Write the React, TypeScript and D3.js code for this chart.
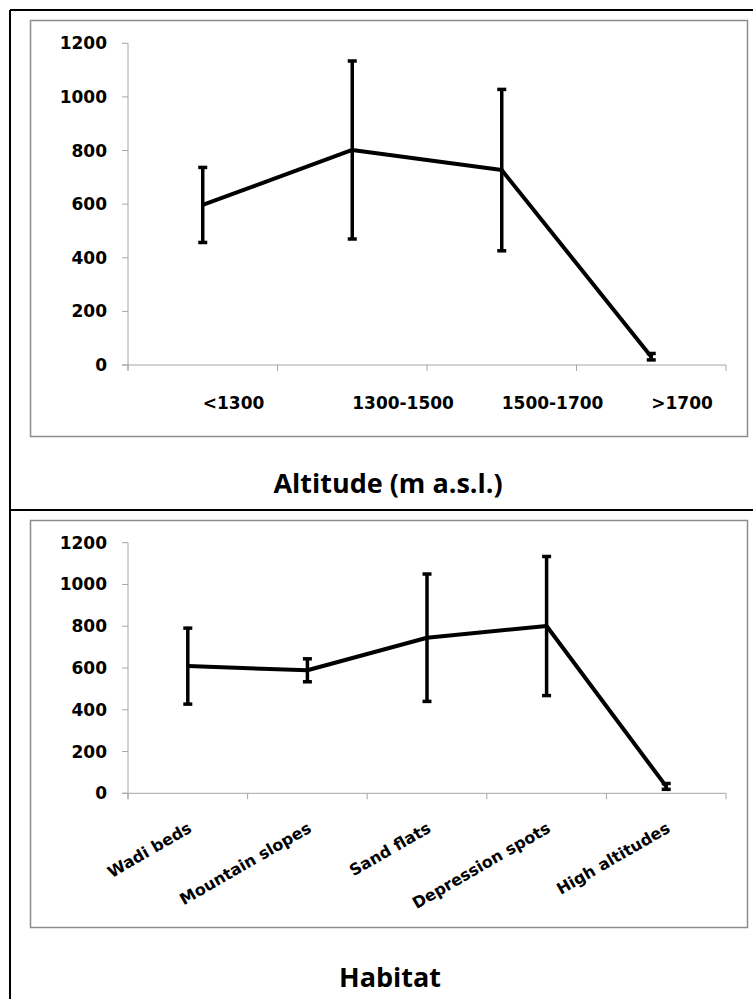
import React from "react"
import * as d3 from "d3"

const altitudeCats = ["<1300", "1300-1500", "1500-1700", ">1700"]
const altitudeMeans = [597, 802, 727, 31]
const altitudeErrors = [140, 332, 301, 12]

const habitatCats = ["Wadi beds", "Mountain slopes", "Sand flats", "Depression spots", "High altitudes"]
const habitatMeans = [609, 589, 745, 801, 33]
const habitatErrors = [182, 55, 305, 333, 14]

const yTicks = [0, 200, 400, 600, 800, 1000, 1200]

const axisColor = "#a6a6a6"
const chartFont = "'DejaVu Sans', Verdana, sans-serif"
const titleFont = "'Open Sans', sans-serif"

type PanelProps = {
  cats: string[]
  means: number[]
  errors: number[]
  yTop: number
  yZero: number
  rotated: boolean
}

const Panel = (props: PanelProps) => {
  const { cats, means, errors, yTop, yZero, rotated } = props

  const x = d3.scaleBand<string>().domain(cats).range([128, 726]).padding(0)
  const y = d3.scaleLinear().domain([0, 1200]).range([yZero, yTop])
  const cx = (c: string) => (x(c) ?? 0) + x.bandwidth() / 2

  const line = d3
    .line<number>()
    .x((d, i) => cx(cats[i]))
    .y((d) => y(d))

  const bounds = cats.map((c) => x(c) ?? 0).concat([x.range()[1]])

  return (
    <g>
      {/* axes */}
      <line x1={128} x2={128} y1={y(1200)} y2={yZero + 6} stroke={axisColor} strokeWidth={1} />
      <line x1={122} x2={726} y1={yZero} y2={yZero} stroke={axisColor} strokeWidth={1} />
      {yTicks.map((t) => (
        <g key={t}>
          <line x1={122} x2={128} y1={y(t)} y2={y(t)} stroke={axisColor} strokeWidth={1} />
          <text
            x={107}
            y={y(t)}
            textAnchor="end"
            dominantBaseline="central"
            fontFamily={chartFont}
            fontWeight="bold"
            fontSize={17}
            fill="#000"
          >
            {t}
          </text>
        </g>
      ))}
      {bounds.map((b, i) => (
        <line key={i} x1={b} x2={b} y1={yZero} y2={yZero + 6} stroke={axisColor} strokeWidth={1} />
      ))}

      {/* category labels */}
      {cats.map((c) =>
        rotated ? (
          <text
            key={c}
            transform={`translate(${cx(c) + 5},${yZero + 38}) rotate(-30)`}
            textAnchor="end"
            fontFamily={chartFont}
            fontWeight="bold"
            fontSize={16}
            fill="#000"
          >
            {c}
          </text>
        ) : (
          <text
            key={c}
            x={cx(c)}
            y={yZero + 44}
            textAnchor="start"
            fontFamily={chartFont}
            fontWeight="bold"
            fontSize={17}
            fill="#000"
          >
            {c}
          </text>
        )
      )}

      {/* error bars */}
      {cats.map((c, i) => {
        const hi = y(means[i] + errors[i])
        const lo = y(means[i] - errors[i])
        const xc = cx(c)
        return (
          <g key={c} stroke="#000" strokeWidth={3.5}>
            <line x1={xc} x2={xc} y1={hi} y2={lo} />
            <line x1={xc - 4.5} x2={xc + 4.5} y1={hi} y2={hi} />
            <line x1={xc - 4.5} x2={xc + 4.5} y1={lo} y2={lo} />
          </g>
        )
      })}

      <path d={line(means) ?? ""} fill="none" stroke="#000" strokeWidth={4} strokeLinejoin="round" />
    </g>
  )
}

const App = () => {
  return (
    <div style={{ position: "absolute", left: 0, top: 0 }}>
      <svg width={753} height={999} style={{ display: "block", background: "#fff" }}>
        <rect x={0} y={0} width={753} height={999} fill="#fff" />

        {/* outer frame */}
        <line x1={10} x2={753} y1={10} y2={10} stroke="#000" strokeWidth={2} />
        <line x1={10} x2={10} y1={10} y2={999} stroke="#000" strokeWidth={2} />
        <line x1={10} x2={753} y1={510} y2={510} stroke="#000" strokeWidth={2} />

        {/* chart boxes */}
        <rect x={30.5} y={20.5} width={717} height={416} fill="#fff" stroke="#8c8c8c" strokeWidth={1.5} />
        <rect x={30.5} y={520.5} width={717} height={407} fill="#fff" stroke="#8c8c8c" strokeWidth={1.5} />

        <Panel
          cats={altitudeCats}
          means={altitudeMeans}
          errors={altitudeErrors}
          yTop={43.3}
          yZero={365}
          rotated={false}
        />
        <Panel
          cats={habitatCats}
          means={habitatMeans}
          errors={habitatErrors}
          yTop={542.7}
          yZero={793.3}
          rotated={true}
        />

        <text x={388} y={493} textAnchor="middle" fontFamily={titleFont} fontWeight="bold" fontSize={27} fill="#000">
          Altitude (m a.s.l.)
        </text>
        <text x={390} y={987} textAnchor="middle" fontFamily={titleFont} fontWeight="bold" fontSize={27} fill="#000">
          Habitat
        </text>
      </svg>
    </div>
  )
}

export default App
